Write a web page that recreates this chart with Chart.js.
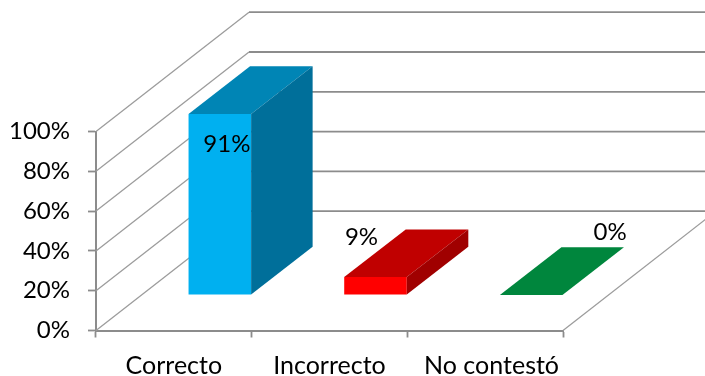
<!DOCTYPE html>
<html lang="es">
  <head>
    <meta charset="UTF-8" />
    <title>Respuestas</title>
    <script src="https://cdn.jsdelivr.net/npm/chart.js@4/dist/chart.umd.min.js"></script>
    <style>
      html,
      body {
        margin: 0;
        background: white;
      }
      canvas {
        display: block;
      }
    </style>
  </head>
  <body>
    <canvas id="bar-chart" width="705" height="376"></canvas>
    <script>
      const categories = ["Correcto", "Incorrecto", "No contestó"];
      const percentValues = [91, 9, 0];
      const yTicks = [0, 20, 40, 60, 80, 100];

      const frontColors = ["#00b0f0", "#ff0000", "#00863d"];
      const topColors = ["#0085b5", "#c00000", "#00863d"];
      const sideColors = ["#006f9a", "#a00000", "#00863d"];

      // how far the labels sit from the middle of each bar's front top edge
      const labelNudgeX = [7, -14, 79];
      const labelNudgeY = [30, -40, -63];

      const fontName = "Lato, 'Open Sans', sans-serif";
      const wallDepth = { x: 153, y: -119.3 };
      const barShift = { x: 46, y: -35.5 };
      const barDepth = { x: 61.5, y: -47.7 };
      const axisGray = "#8c8c8c";
      const wallGray = "#9c9c9c";

      // floor and side wall lines, running back from the y axis
      const wallsPlugin = {
        id: "walls",
        beforeDatasetsDraw(chart) {
          const ctx = chart.ctx;
          const yScale = chart.scales.y;
          const xScale = chart.scales.x;
          const left = xScale.left;
          ctx.save();
          yTicks.forEach((tick) => {
            const y = yScale.getPixelForValue(tick);
            ctx.strokeStyle = wallGray;
            ctx.lineWidth = 1.3;
            ctx.beginPath();
            ctx.moveTo(left, y);
            ctx.lineTo(left + wallDepth.x, y + wallDepth.y);
            ctx.stroke();
            ctx.strokeStyle = axisGray;
            ctx.lineWidth = 1.8;
            ctx.beginPath();
            ctx.moveTo(left + wallDepth.x, y + wallDepth.y);
            ctx.lineTo(chart.width, y + wallDepth.y);
            ctx.stroke();
          });
          // right edge of the floor
          const floorY = yScale.getPixelForValue(0);
          ctx.strokeStyle = wallGray;
          ctx.lineWidth = 1.3;
          ctx.beginPath();
          ctx.moveTo(xScale.right, floorY);
          ctx.lineTo(xScale.right + wallDepth.x, floorY + wallDepth.y);
          ctx.stroke();
          ctx.restore();
        },
        // bars stand part way back on the floor
        beforeDatasetDraw(chart) {
          chart.ctx.save();
          chart.ctx.translate(barShift.x, barShift.y);
        },
        afterDatasetDraw(chart, args) {
          const ctx = chart.ctx;
          args.meta.data.forEach((bar, i) => {
            const l = bar.x - bar.width / 2;
            const r = bar.x + bar.width / 2;
            // top face
            ctx.fillStyle = topColors[i];
            ctx.beginPath();
            ctx.moveTo(l, bar.y);
            ctx.lineTo(r, bar.y);
            ctx.lineTo(r + barDepth.x, bar.y + barDepth.y);
            ctx.lineTo(l + barDepth.x, bar.y + barDepth.y);
            ctx.closePath();
            ctx.fill();
            // side face
            ctx.fillStyle = sideColors[i];
            ctx.beginPath();
            ctx.moveTo(r, bar.y);
            ctx.lineTo(r, bar.base);
            ctx.lineTo(r + barDepth.x, bar.base + barDepth.y);
            ctx.lineTo(r + barDepth.x, bar.y + barDepth.y);
            ctx.closePath();
            ctx.fill();
          });
          ctx.restore();
        },
        afterDatasetsDraw(chart) {
          const ctx = chart.ctx;
          ctx.save();
          ctx.fillStyle = "#000";
          ctx.font = "24px " + fontName;
          ctx.textAlign = "center";
          ctx.textBaseline = "middle";
          chart.getDatasetMeta(0).data.forEach((bar, i) => {
            ctx.fillText(
              percentValues[i] + "%",
              bar.x + barShift.x + labelNudgeX[i],
              bar.y + barShift.y + labelNudgeY[i]
            );
          });
          ctx.restore();
        },
      };

      new Chart(document.getElementById("bar-chart"), {
        type: "bar",
        data: {
          labels: categories,
          datasets: [
            {
              data: percentValues,
              backgroundColor: frontColors,
              borderWidth: 0,
              barPercentage: 0.402,
              categoryPercentage: 1,
              clip: false,
            },
          ],
        },
        plugins: [wallsPlugin],
        options: {
          responsive: false,
          animation: false,
          layout: { padding: { top: 131.5, right: 142, left: 0, bottom: 0 } },
          plugins: {
            legend: { display: false },
            tooltip: { enabled: false },
          },
          scales: {
            x: {
              offset: true,
              afterFit(scale) {
                scale.height = 45.5;
              },
              grid: {
                offset: true,
                drawOnChartArea: false,
                tickLength: 7,
                tickColor: axisGray,
                tickWidth: 1.8,
              },
              border: { color: axisGray, width: 2 },
              ticks: {
                color: "#000",
                font: { family: fontName, size: 25 },
                padding: 13,
                maxRotation: 0,
                autoSkip: false,
                // last label sits slightly right of its band
                callback(value, index) {
                  const name = categories[index];
                  return index === 2 ? "\u00a0\u00a0" + name : name;
                },
              },
            },
            y: {
              min: 0,
              max: 100,
              afterFit(scale) {
                scale.width = 96;
              },
              afterBuildTicks(scale) {
                scale.ticks = yTicks.map((value) => ({ value }));
              },
              grid: {
                drawOnChartArea: false,
                tickLength: 8,
                tickColor: axisGray,
                tickWidth: 1.8,
              },
              border: { color: axisGray, width: 2 },
              ticks: {
                color: "#000",
                font: { family: fontName, size: 24 },
                padding: 18,
                callback: (value) => value + "%",
              },
            },
          },
        },
      });
    </script>
  </body>
</html>
